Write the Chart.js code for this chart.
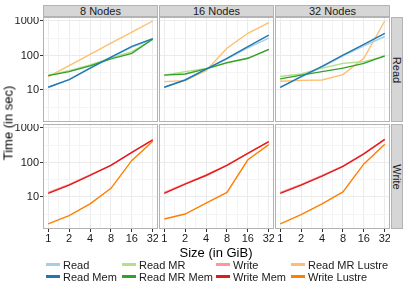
<!DOCTYPE html>
<html>
<head>
<meta charset="utf-8">
<script src="https://cdn.jsdelivr.net/npm/chart.js@4/dist/chart.umd.min.js"></script>
<style>
  body { margin: 0; background: #fff; font-family: "Liberation Sans", Arial, sans-serif; }
  #wrap { position: relative; width: 407px; height: 291px; overflow: hidden; background: #fff; }
  .panel { position: absolute; }
  .strip { position: absolute; box-sizing: border-box; background: #d6d6d6; border: 1px solid #b3b3b3;
           font-size: 11px; color: #1a1a1a; display: flex; align-items: center; justify-content: center; }
  .strip span { display: block; white-space: nowrap; }
  .vstrip span { transform: rotate(90deg); }
  .title { position: absolute; font-size: 13px; color: #000; white-space: nowrap; }
  .key { position: absolute; font-size: 11px; color: #1a1a1a; white-space: nowrap; line-height: 12px; }
  .key i { position: absolute; left: -17px; top: 4px; width: 14px; height: 3px; }
</style>
</head>
<body>
<div id="wrap"></div>
<script>
// facettes : colonnes = noeuds, lignes = lecture / ecriture
const nodeLabels = ['8 Nodes', '16 Nodes', '32 Nodes'];
const rowLabels = ['Read', 'Write'];
const sizes = [1, 2, 4, 8, 16, 32];

// graduations
const xMajor = [1, 2, 4, 8, 16, 32];
const xMinor = [1.414, 2.828, 5.657, 11.31, 22.63];
const yMajor = [10, 100, 1000];
const yMinor = [3.162, 31.62, 316.2];

// temps (sec), un tableau par nombre de noeuds : [8, 16, 32]
const readVals = [
  [12, 20, 42, 86, 175, 295],
  [12, 19.5, 39, 80, 165, 320],
  [12, 24, 46, 98, 190, 355]
];
const readMemVals = [
  [12, 20, 43, 89, 183, 310],
  [12, 19.5, 40, 83, 180, 390],
  [12, 24.5, 48, 103, 210, 440]
];
const readMRVals = [
  [27, 36, 53, 85, 130, 290],
  [27, 34, 42, 60, 83, 148],
  [24.5, 29, 43, 59, 66, 95]
];
const readMRMemVals = [
  [26, 34, 50, 80, 115, 300],
  [27, 29, 41, 62, 83, 150],
  [21, 27, 34, 43, 59, 97]
];
const readMRLustreVals = [
  [24.5, 51, 108, 227, 477, 1000],
  [17.5, 18.7, 36, 162, 440, 890],
  [18, 19, 19.5, 28, 83, 1000]
];
const writeVals = [
  [13.6, 23, 44, 84, 197, 450],
  [13.6, 24.5, 44, 84, 188, 400],
  [13.6, 23, 42, 79, 180, 470]
];
const writeMemVals = [
  [12.7, 22, 42, 82, 197, 450],
  [12.7, 23.6, 42, 82, 185, 400],
  [12.7, 22, 40, 77, 177, 470]
];
const writeLustreVals = [
  [1.66, 2.9, 6.3, 17.8, 115, 410],
  [2.3, 3.2, 6.6, 13.6, 120, 330],
  [1.66, 3.1, 6.3, 14, 91, 340]
];

const colors = {
  'Read': '#a6cee3', 'Read Mem': '#1f78b4',
  'Read MR': '#b2df8a', 'Read MR Mem': '#33a02c',
  'Write': '#fb9a99', 'Write Mem': '#e31a1c',
  'Read MR Lustre': '#fdbf6f', 'Write Lustre': '#ff7f00'
};

// series par ligne (premier = dessine au-dessus)
const rowSeries = [
  [['Read Mem', readMemVals], ['Read MR Mem', readMRMemVals], ['Read', readVals],
   ['Read MR', readMRVals], ['Read MR Lustre', readMRLustreVals]],
  [['Write Mem', writeMemVals], ['Write', writeVals], ['Write Lustre', writeLustreVals]]
];

const legendOrder = ['Read', 'Read Mem', 'Read MR', 'Read MR Mem', 'Write', 'Write Mem', 'Read MR Lustre', 'Write Lustre'];

// mise en page (px)
const panelLeft = [43, 159, 275];
const panelTop = [17, 124];
const panelW = 115, panelH = 105;

const wrap = document.getElementById('wrap');

const panelBorder = {
  id: 'panelBorder',
  afterDraw(chart) {
    const { ctx, chartArea: a } = chart;
    ctx.save();
    ctx.strokeStyle = '#b3b3b3';
    ctx.lineWidth = 1;
    ctx.strokeRect(a.left + 0.5, a.top + 0.5, a.right - a.left - 1, a.bottom - a.top - 1);
    ctx.restore();
  }
};

const isMajor = (list, v) => list.some(m => Math.abs(m - v) < 1e-6);

function makePanel(row, col) {
  const showY = col === 0, showX = row === 1;
  const yw = showY ? 43 : 0, xh = showX ? 20 : 0;
  const div = document.createElement('div');
  div.className = 'panel';
  div.style.left = (panelLeft[col] - yw) + 'px';
  div.style.top = panelTop[row] + 'px';
  const canvas = document.createElement('canvas');
  canvas.width = panelW + yw;
  canvas.height = panelH + xh;
  div.appendChild(canvas);
  wrap.appendChild(div);

  const datasets = rowSeries[row].map(([name, vals]) => ({
    label: name,
    data: sizes.map((s, i) => ({ x: s, y: vals[col][i] })),
    borderColor: colors[name],
    backgroundColor: colors[name],
    borderWidth: 1.4,
    pointRadius: 0,
    tension: 0,
    fill: false
  }));

  new Chart(canvas, {
    type: 'line',
    data: { datasets },
    plugins: [panelBorder],
    options: {
      responsive: false,
      animation: false,
      layout: { padding: 0 },
      plugins: { legend: { display: false }, tooltip: { enabled: false } },
      scales: {
        x: {
          type: 'logarithmic',
          min: Math.pow(2, -0.25),
          max: Math.pow(2, 5.25),
          afterBuildTicks: s => { s.ticks = xMajor.concat(xMinor).map(v => ({ value: v })); },
          afterFit: s => { s.height = xh; s.paddingLeft = 0; s.paddingRight = 0; },
          border: { display: false },
          grid: {
            color: c => (c.tick && isMajor(xMajor, c.tick.value)) ? '#ebebeb' : '#f4f4f4',
            drawTicks: showX,
            tickLength: 3,
            tickColor: c => (c.tick && isMajor(xMajor, c.tick.value)) ? '#333' : 'rgba(0,0,0,0)'
          },
          ticks: {
            display: showX,
            autoSkip: false,
            maxRotation: 0,
            minRotation: 0,
            padding: 0,
            color: '#1a1a1a',
            font: { size: 11, family: '"Liberation Sans", Arial, sans-serif' },
            callback: v => isMajor(xMajor, v) ? String(v) : ''
          }
        },
        y: {
          type: 'logarithmic',
          min: 1.18,
          max: 1306,
          afterBuildTicks: s => { s.ticks = yMajor.concat(yMinor).map(v => ({ value: v })); },
          afterFit: s => { s.width = yw; s.paddingTop = 0; s.paddingBottom = 0; },
          border: { display: false },
          grid: {
            color: c => (c.tick && isMajor(yMajor, c.tick.value)) ? '#ebebeb' : '#f4f4f4',
            drawTicks: showY,
            tickLength: 3,
            tickColor: c => (c.tick && isMajor(yMajor, c.tick.value)) ? '#333' : 'rgba(0,0,0,0)'
          },
          ticks: {
            display: showY,
            autoSkip: false,
            padding: 1,
            color: '#1a1a1a',
            font: { size: 11, family: '"Liberation Sans", Arial, sans-serif' },
            callback: v => isMajor(yMajor, v) ? String(v) : ''
          }
        }
      }
    }
  });
}

for (let r = 0; r < 2; r++) {
  for (let c = 0; c < 3; c++) makePanel(r, c);
}

// bandeaux du haut
nodeLabels.forEach((t, c) => {
  const s = document.createElement('div');
  s.className = 'strip';
  Object.assign(s.style, { left: panelLeft[c] + 'px', top: '5px', width: panelW + 'px', height: '12px' });
  s.innerHTML = '<span>' + t + '</span>';
  wrap.appendChild(s);
});
// bandeaux de droite
rowLabels.forEach((t, r) => {
  const s = document.createElement('div');
  s.className = 'strip vstrip';
  Object.assign(s.style, { left: '391px', top: panelTop[r] + 'px', width: '12px', height: panelH + 'px' });
  s.innerHTML = '<span>' + t + '</span>';
  wrap.appendChild(s);
});

// titres des axes
const xt = document.createElement('div');
xt.className = 'title';
xt.textContent = 'Size (in GiB)';
Object.assign(xt.style, { left: '216px', top: '245px', transform: 'translateX(-50%)' });
wrap.appendChild(xt);

const yt = document.createElement('div');
yt.className = 'title';
yt.textContent = 'Time (in sec)';
Object.assign(yt.style, { left: '8px', top: '123px', transform: 'translate(-50%, -50%) rotate(-90deg)' });
wrap.appendChild(yt);

// legende (4 colonnes x 2 lignes)
const keyX = [63, 139, 233, 308];
const keyY = [259, 271];
legendOrder.forEach((name, i) => {
  const k = document.createElement('div');
  k.className = 'key';
  k.style.left = keyX[Math.floor(i / 2)] + 'px';
  k.style.top = keyY[i % 2] + 'px';
  k.innerHTML = '<i style="background:' + colors[name] + '"></i>' + name;
  wrap.appendChild(k);
});
</script>
</body>
</html>
